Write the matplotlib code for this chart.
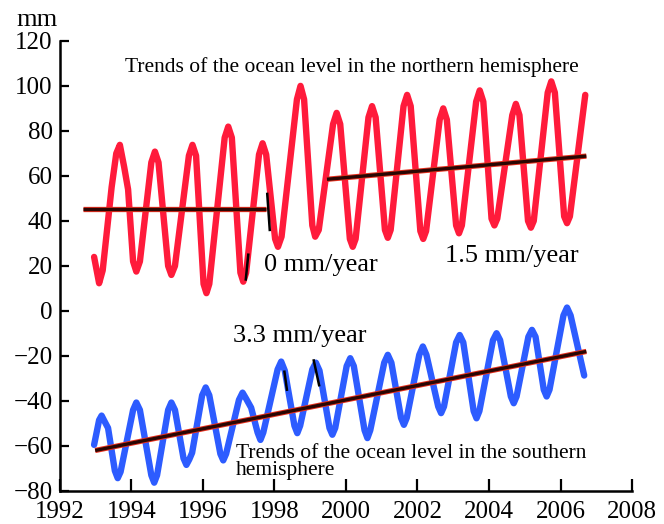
import matplotlib
matplotlib.use("Agg")
import matplotlib.pyplot as plt

plt.rcParams['font.family'] = ['Liberation Serif', 'DejaVu Serif']

# Northern hemisphere (red) curve
t_north = [1992.96, 1993.10, 1993.20, 1993.45, 1993.58, 1993.68, 1993.80, 1993.91,
           1994.05, 1994.14, 1994.24, 1994.56, 1994.66, 1994.76,
           1995.03, 1995.12, 1995.22, 1995.61, 1995.71, 1995.81,
           1996.02, 1996.10, 1996.18, 1996.61, 1996.71, 1996.81,
           1997.05, 1997.13, 1997.21, 1997.57, 1997.67, 1997.77,
           1998.02, 1998.10, 1998.20, 1998.63, 1998.73, 1998.83,
           1999.06, 1999.14, 1999.24, 1999.64, 1999.74, 1999.84,
           2000.11, 2000.19, 2000.27, 2000.63, 2000.73, 2000.83,
           2001.09, 2001.17, 2001.25, 2001.61, 2001.71, 2001.81,
           2002.08, 2002.16, 2002.24, 2002.62, 2002.72, 2002.82,
           2003.08, 2003.16, 2003.24, 2003.64, 2003.74, 2003.84,
           2004.07, 2004.15, 2004.23, 2004.65, 2004.75, 2004.85,
           2005.09, 2005.17, 2005.25, 2005.64, 2005.74, 2005.84,
           2006.10, 2006.18, 2006.26, 2006.69]
v_north = [24, 12.3, 18, 55, 70, 73.8, 64, 54,
           22, 17.5, 22, 66, 70.8, 66,
           20, 16, 20, 69, 73.8, 69,
           12, 7.9, 12, 77, 81.9, 77,
           17, 13, 17, 69.5, 74.5, 69.5,
           32, 28.5, 33, 94, 100, 94,
           38, 33, 36, 83, 88, 83,
           32, 28.5, 32, 86, 91, 86,
           36, 32.5, 36, 91, 96, 91,
           35.5, 32, 35.5, 85, 90, 85,
           38, 34.5, 38, 93, 98, 93,
           41, 38, 41, 87, 92, 87,
           40, 37, 40, 97, 102, 97,
           42, 39, 42, 96]

# Southern hemisphere (blue) curve
t_south = [1992.96, 1993.10, 1993.17, 1993.25, 1993.35,
           1993.54, 1993.62, 1993.70, 1994.05, 1994.14, 1994.24,
           1994.56, 1994.64, 1994.72, 1995.03, 1995.12, 1995.22,
           1995.46, 1995.54, 1995.62, 1995.70, 1995.98, 1996.08, 1996.18,
           1996.49, 1996.57, 1996.65, 1997.01, 1997.11, 1997.21, 1997.35,
           1997.53, 1997.61, 1997.69, 1998.09, 1998.19, 1998.29,
           1998.56, 1998.64, 1998.72, 1999.06, 1999.16, 1999.26,
           1999.54, 1999.62, 1999.70, 2000.02, 2000.12, 2000.22,
           2000.52, 2000.60, 2000.68, 2001.07, 2001.17, 2001.27,
           2001.54, 2001.62, 2001.70, 2002.05, 2002.15, 2002.25,
           2002.58, 2002.66, 2002.74, 2003.08, 2003.18, 2003.28,
           2003.57, 2003.65, 2003.73, 2004.11, 2004.21, 2004.31,
           2004.61, 2004.69, 2004.77, 2005.10, 2005.20, 2005.30,
           2005.53, 2005.61, 2005.69, 2006.08, 2006.18, 2006.28,
           2006.66]
v_south = [-59.5, -48.5, -46.5, -49, -52,
           -71, -74.3, -71.5, -44, -40.7, -44,
           -73, -76.3, -73, -44, -40.7, -44,
           -65.5, -68.4, -66, -63, -37.5, -34, -37.5,
           -63.5, -66.4, -63.5, -39.5, -36.3, -39, -43,
           -54, -57.3, -54, -26, -22.5, -26.5,
           -51, -54.3, -51, -26, -23, -26.5,
           -52, -55, -52, -24.5, -21, -24.5,
           -53, -56.5, -53, -23, -19.5, -23,
           -47.5, -50.6, -47.5, -19.5, -15.8, -19.5,
           -42.5, -45.4, -42.5, -14, -10.7, -14,
           -44.5, -47.7, -44.5, -13, -9.9, -13,
           -38, -41, -38, -11.5, -8.4, -11.5,
           -35, -38, -35, -2, 1.5, -2,
           -28.7]

# Trend lines (start/end year, start/end value)
trend_n1_t = [1992.66, 1997.77]
trend_n1_v = [45.2, 45.2]
trend_n2_t = [1999.47, 2006.72]
trend_n2_v = [58.5, 68.8]
trend_s_t = [1992.99, 2006.72]
trend_s_v = [-62, -18]

# small black marks on the curves
marks = [([1997.80, 1997.87], [52, 36]),
         ([1997.27, 1997.20], [25, 14]),
         ([1998.28, 1998.35], [-27, -35]),
         ([1999.10, 1999.25], [-22, -33])]

x_ticks = [1992, 1994, 1996, 1998, 2000, 2002, 2004, 2006, 2008]
y_ticks = [-80, -60, -40, -20, 0, 20, 40, 60, 80, 100, 120]

fig = plt.figure(figsize=(6.64, 5.24), dpi=100)
ax = fig.add_axes([0.090, 0.063, 0.862, 0.859])

red = '#ff1b3b'
blue = '#2d5cff'
ax.plot(t_north, v_north, color=red, lw=4.6, solid_joinstyle='round', solid_capstyle='round')
ax.plot(t_south, v_south, color=blue, lw=4.6, solid_joinstyle='round', solid_capstyle='round')

for tt, vv in [(trend_n1_t, trend_n1_v), (trend_n2_t, trend_n2_v), (trend_s_t, trend_s_v)]:
    ax.plot(tt, vv, color='#e8301e', lw=3.8, solid_capstyle='butt')
    ax.plot(tt, vv, color='#2a0603', lw=2.4, solid_capstyle='butt')

for tt, vv in marks:
    ax.plot(tt, vv, color='black', lw=1.8)

ax.set_xlim(1992, 2008)
ax.set_ylim(-80, 120)
ax.set_xticks(x_ticks)
ax.set_yticks(y_ticks)
ax.set_xticklabels([str(x) for x in x_ticks])
ax.set_yticklabels([str(y).replace('-', '\u2212') for y in y_ticks])
ax.tick_params(axis='x', direction='in', length=9, width=1.6, labelsize=18, pad=7)
ax.tick_params(axis='y', direction='in', length=6.5, width=1.6, labelsize=18, pad=5)
for s in ['top', 'right']:
    ax.spines[s].set_visible(False)
for s in ['left', 'bottom']:
    ax.spines[s].set_linewidth(1.8)

fig.text(0.056, 0.962, 'mm', fontsize=19, ha='center', va='center')

ax.text(1993.83, 108.5, 'Trends of the ocean level in the northern hemisphere',
        fontsize=15.5, ha='left', va='center')
ax.text(1997.70, 20.5, '0 mm/year', fontsize=19, ha='left', va='center')
ax.text(2002.78, 24.6, '1.5 mm/year', fontsize=19, ha='left', va='center')
ax.text(1996.84, -11.1, '3.3 mm/year', fontsize=19, ha='left', va='center')
ax.text(1996.93, -67, 'Trends of the ocean level in the southern\nhemisphere',
        fontsize=15.5, ha='left', va='center', linespacing=0.85)

fig.savefig('out.png', dpi=100)
